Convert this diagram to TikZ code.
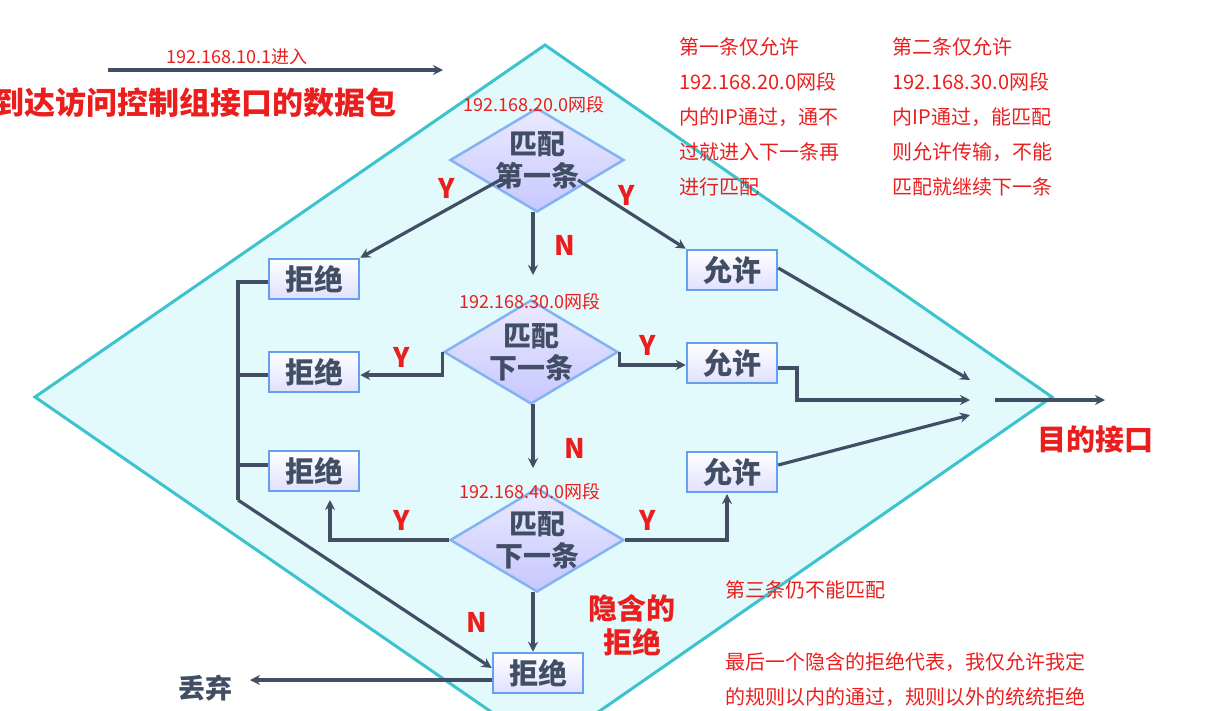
\documentclass[tikz,border=0pt]{standalone}
\usepackage{fontspec}
\setmainfont{Noto Sans CJK SC}
\usetikzlibrary{shapes.geometric,arrows.meta}
\definecolor{bgc}{RGB}{226,250,252}
\definecolor{edgec}{RGB}{60,195,205}
\definecolor{boxb}{RGB}{100,160,240}
\definecolor{ink}{RGB}{65,78,100}
\definecolor{rd}{RGB}{235,30,30}
\tikzset{
 x=1pt,y=-1pt,
 box/.style={draw=boxb,line width=2.5pt,minimum width=90pt,minimum height=40pt,top color=white,bottom color=blue!12,text=ink,font=\fontsize{29}{30}\selectfont\bfseries,inner sep=0pt},
 dia/.style={diamond,aspect=1.7,draw=boxb!80,line width=2.5pt,top color=blue!8,bottom color=blue!22,text=ink,font=\fontsize{28}{32}\selectfont\bfseries,align=center,inner sep=-4pt,minimum width=174pt,minimum height=104pt},
 ar/.style={draw=ink,line width=3.2pt,-{Stealth[length=10pt,width=10pt]}},
 ln/.style={draw=ink,line width=3.2pt},
 yn/.style={text=rd,font=\fontsize{27}{27}\selectfont\bfseries},
 note/.style={text=rd,font=\fontsize{20}{20}\selectfont,anchor=west},
 ip/.style={text=rd,font=\fontsize{18}{20}\selectfont},
}
\begin{document}
\begin{tikzpicture}
\useasboundingbox (0,0) rectangle (1221,710);
\begin{scope}
\clip (0,0) rectangle (1221,710);
\fill[bgc,draw=edgec,line width=3pt] (545,45) -- (1052,397) -- (545,749) -- (35,397) -- cycle;
\end{scope}
% top
\coordinate (s0) at (108,70); \coordinate (s1) at (443,70);
\draw[ar] (s0) -- (s1);
\node[ip] (inlab) at (237,57) {192.168.10.1进入};
\node[text=rd,font=\fontsize{31}{34}\selectfont\bfseries,anchor=east] (pkt) at (400,103) {到达访问控制组接口的数据包};
% diamonds
\node[dia] (d1) at (537,160) {匹配\\第一条};
\node[dia] (d2) at (531,352) {匹配\\下一条};
\node[dia] (d3) at (537,540) {匹配\\下一条};
\node[ip] (ip1) at (534,105) {192.168.20.0网段};
\node[ip] (ip2) at (530,302) {192.168.30.0网段};
\node[ip] (ip3) at (530,492) {192.168.40.0网段};
% boxes
\node[box] (r1) at (314,279) {拒绝};
\node[box] (r2) at (314,372) {拒绝};
\node[box] (r3) at (314,471) {拒绝};
\node[box] (r4) at (538,673) {拒绝};
\node[box] (a1) at (732,270) {允许};
\node[box] (a2) at (732,363) {允许};
\node[box] (a3) at (732,472) {允许};
% d1
\draw[ar] (500,180) -- (r1.north east);
\draw[ar] (578,180) -- (a1.north west);
\draw[ar] (533,212) -- (533,275);
\node[yn] (y1) at (447,188) {Y};
\node[yn] (y2) at (627,195) {Y};
\node[yn] (n1) at (565,245) {N};
% d2
\draw[ar] (d2.west) -- (d2.west |- 0,375) -- (r2.east |- 0,375);
\draw[ar] (d2.east) -- (d2.east |- 0,365) -- (a2.west |- 0,365);
\draw[ar] (533,404) -- (533,468);
\node[yn] (y3) at (402,357) {Y};
\node[yn] (y4) at (648,345) {Y};
\node[yn] (n2) at (575,448) {N};
% d3
\draw[ar] (d3.west) -- (330,540) -- (330,500);
\draw[ar] (d3.east) -- (727,540) -- (727,494);
\draw[ar] (533,592) -- (r4.north -| 533,0);
\node[yn] (y5) at (402,520) {Y};
\node[yn] (y6) at (648,520) {Y};
\node[yn] (n3) at (477,622) {N};
% left bus
\coordinate (b0) at (238,282); \coordinate (b1) at (238,500);
\draw[ln] (r1.west |- 0,282) -- (b0) -- (b1);
\draw[ln] (r2.west |- 0,375) -- (238,375);
\draw[ln] (r3.west |- 0,465) -- (238,465);
\draw[ar] (b1) -- (r4.west |- 0,668);
\coordinate (dc) at (250,680);
\draw[ar] (r4.west |- 0,680) -- (dc);
\node[text=ink,font=\fontsize{27}{28}\selectfont\bfseries] (drop) at (205,688) {丢弃};
\node[text=rd,font=\fontsize{29}{34}\selectfont\bfseries,align=center] (imp) at (632,625) {隐含的\\拒绝};
% right
\coordinate (t1) at (970,380); \coordinate (t2) at (970,400); \coordinate (t3) at (970,415);
\draw[ar] (a1.east |- 0,268) -- (t1);
\draw[ar] (a2.east |- 0,368) -- (797,368) -- (797,400) -- (t2);
\draw[ar] (a3.east |- 0,465) -- (t3);
\coordinate (o0) at (995,400); \coordinate (o1) at (1105,400);
\draw[ar] (o0) -- (o1);
\node[text=rd,font=\fontsize{29}{32}\selectfont\bfseries] (dst) at (1095,440) {目的接口};
% notes
\node[note,align=left,font=\fontsize{20}{35}\selectfont,anchor=north west] (nt1) at (676,34) {第一条仅允许\\192.168.20.0网段\\内的IP通过，通不\\过就进入下一条再\\进行匹配};
\node[note,align=left,font=\fontsize{20}{35}\selectfont,anchor=north west] (nt2) at (889,34) {第二条仅允许\\192.168.30.0网段\\内IP通过，能匹配\\则允许传输，不能\\匹配就继续下一条};
\node[note] (nt3) at (722,590) {第三条仍不能匹配};
\node[note,align=left,font=\fontsize{20}{35}\selectfont] (nt4) at (722,680) {最后一个隐含的拒绝代表，我仅允许我定\\的规则以内的通过，规则以外的统统拒绝};
\end{tikzpicture}
\end{document}
